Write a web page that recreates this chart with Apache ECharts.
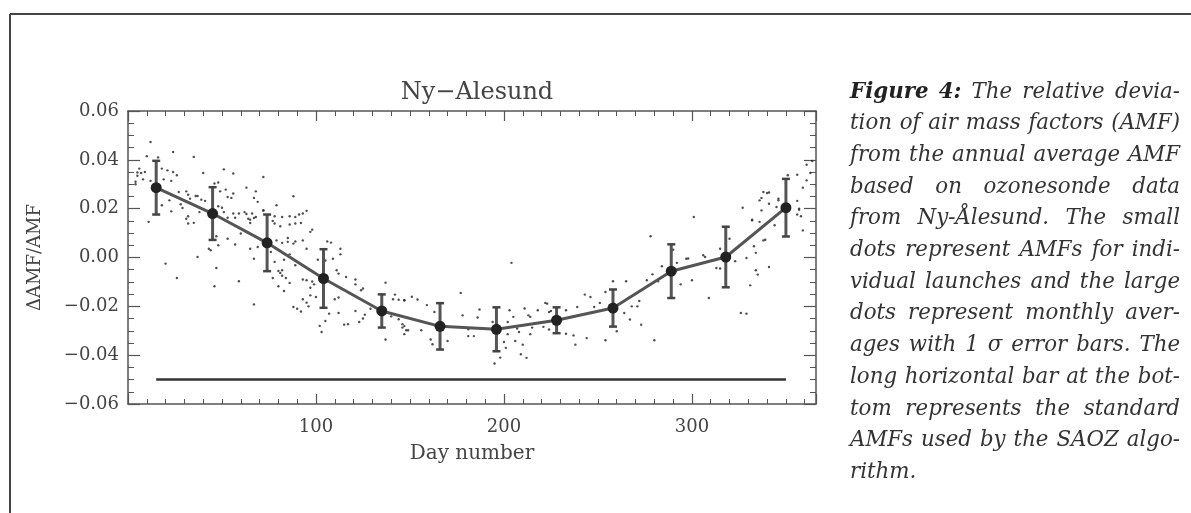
<!DOCTYPE html>
<html>
<head>
<meta charset="utf-8">
<script src="https://cdn.jsdelivr.net/npm/echarts@6/dist/echarts.min.js"></script>
<style>
html,body{margin:0;padding:0;background:#fff;}
#chart{width:1191px;height:513px;}
</style>
</head>
<body>
<div id="chart"></div>
<script>
// ---------------- data ----------------
const chartTitle = 'Ny\u2212Alesund';
const xName = 'Day number';
const yName = '\u0394AMF/AMF';
const xTickLabels = [100, 200, 300];

// monthly averages (large dots) and 1-sigma
const monthDays  = [15, 45, 74, 104, 135, 166, 196, 228, 258, 289, 318, 350];
const monthMeans = [0.0286, 0.0180, 0.0060, -0.0086, -0.0219, -0.0282, -0.0294, -0.0257, -0.0207, -0.0056, 0.0002, 0.0204];
const monthSigma = [0.0110, 0.0108, 0.0116, 0.0120, 0.0068, 0.0095, 0.0090, 0.0053, 0.0076, 0.0110, 0.0124, 0.0118];

// standard AMF bar
const standardDays = [15, 350];
const standardValue = -0.05;

// individual launches (small dots)
const launches = [
[12,0.0473],[10,0.0415],[16,0.0410],[24,0.0432],[35,0.0412],[6,0.0364],[7,0.0346],[9,0.0350],[4,0.0300],[8,0.0320],[12,0.0314],[18,0.0364],[21,0.0357],[24,0.0350],[26,0.0337],[19,0.0320],[23,0.0314],[40,0.0346],[51,0.0361],[56,0.0344],[72,0.0330],[27,0.0268],[31,0.0271],[32,0.0257],[33,0.0241],[36,0.0252],[37,0.0252],[39,0.0237],[41,0.0232],[22,0.0234],[18,0.0214],[28,0.0218],[29,0.0203],[23,0.0189],[38,0.0186],[11,0.0146],[32,0.0169],[31,0.0159],[32,0.0139],[35,0.0142],[46,0.0303],[48,0.0307],[52,0.0278],[49,0.0271],[56,0.0262],[53,0.0248],[55,0.0244],[63,0.0286],[68,0.0271],[67,0.0244],[69,0.0228],[72,0.0193],[48,0.0210],[50,0.0204],[51,0.0186],[53,0.0163],[56,0.0180],[57,0.0163],[59,0.0180],[62,0.0186],[63,0.0178],[64,0.0159],[65,0.0155],[66,0.0180],[67,0.0162],[68,0.0166],[65,0.0141],[60,0.0098],[53,0.0077],[47,0.0087],[48,0.0050],[43,0.0036],[44,0.0030],[57,0.0053],[65,0.0036],[69,0.0043],[67,-0.0005],[37,0.0002],[20,-0.0025],[26,-0.0084],[47,-0.0043],[46,-0.0118],[59,-0.0097],[67,-0.0192],[5,0.0348],[5,0.0335],[4,0.0310],
[88,0.0251],[79,0.0214],[72,0.0193],[78,0.0169],[77,0.0150],[78,0.0139],[82,0.0166],[86,0.0169],[89,0.0166],[91,0.0176],[95,0.0191],[93,0.0180],[81,0.0128],[86,0.0135],[89,0.0139],[92,0.0141],[98,0.0114],[97,0.0105],[85,0.0080],[79,0.0070],[82,0.0060],[85,0.0064],[88,0.0057],[89,0.0066],[93,0.0070],[95,0.0036],[76,0.0023],[78,-0.0018],[83,-0.0009],[86,0.0013],[89,-0.0032],[80,-0.0055],[81,-0.0063],[82,-0.0052],[77,-0.0084],[82,-0.0075],[84,-0.0084],[86,-0.0104],[80,-0.0118],[83,-0.0137],[93,-0.0090],[95,-0.0093],[98,-0.0098],[99,-0.0110],[97,-0.0124],[97,-0.0155],[100,-0.0162],[93,-0.0171],[95,-0.0185],[96,-0.0200],[88,-0.0203],[90,-0.0210],[92,-0.0221],[106,0.0066],[108,0.0061],[113,0.0036],[113,0.0013],[109,-0.0005],[105,-0.0012],[101,-0.0009],[111,-0.0052],[112,-0.0066],[116,-0.0080],[121,-0.0090],[121,-0.0110],[124,-0.0134],[125,-0.0127],[112,-0.0164],[110,-0.0171],[112,-0.0227],[107,-0.0230],[105,-0.0260],[102,-0.0280],[103,-0.0305],[115,-0.0275],[117,-0.0273],[121,-0.0219],[123,-0.0264],[126,-0.0234],[125,-0.0250],[129,-0.0210],[137,-0.0103],[142,-0.0152],[144,-0.0173],[147,-0.0175],[141,-0.0171],[140,-0.0241],[144,-0.0253],[146,-0.0273],[148,-0.0298],[137,-0.0336],
[204,-0.0022],[177,-0.0145],[147,-0.0175],[151,-0.0161],[154,-0.0172],[159,-0.0195],[163,-0.0223],[147,-0.0281],[149,-0.0298],[147,-0.0314],[156,-0.0298],[146,-0.0287],[161,-0.0336],[162,-0.0355],[170,-0.0342],[178,-0.0237],[187,-0.0213],[186,-0.0246],[181,-0.0294],[181,-0.0322],[184,-0.0322],[194,-0.0264],[203,-0.0216],[205,-0.0243],[202,-0.0264],[200,-0.0346],[202,-0.0314],[201,-0.0370],[198,-0.0410],[195,-0.0434],[211,-0.0209],[213,-0.0237],[214,-0.0243],[218,-0.0216],[222,-0.0186],[224,-0.0223],[215,-0.0287],[221,-0.0284],[207,-0.0291],[208,-0.0305],[214,-0.0314],[206,-0.0342],[210,-0.0357],[209,-0.0396],[212,-0.0411],
[278,0.0087],[258,-0.0097],[265,-0.0097],[243,-0.0152],[246,-0.0162],[254,-0.0141],[251,-0.0186],[248,-0.0203],[239,-0.0203],[233,-0.0216],[225,-0.0219],[223,-0.0189],[268,-0.0200],[271,-0.0200],[272,-0.0178],[264,-0.0227],[267,-0.0254],[273,-0.0275],[260,-0.0302],[224,-0.0295],[233,-0.0312],[237,-0.0319],[238,-0.0357],[244,-0.0330],[254,-0.0339],[280,-0.0339],[276,-0.0093],[279,-0.0069],[282,-0.0097],[284,-0.0036],[292,-0.0022],[294,-0.0110],[298,-0.0004],[290,0.0032],
[301,0.0166],[297,-0.0005],[306,0.0009],[307,0.0002],[300,-0.0093],[309,-0.0166],[313,-0.0043],[315,-0.0045],[315,0.0036],[320,0.0077],[323,-0.0015],[329,-0.0002],[333,0.0046],[334,0.0019],[331,-0.0114],[334,-0.0052],[335,-0.0070],[341,-0.0039],[326,-0.0227],[329,-0.0230],[327,0.0204],[332,0.0155],[336,0.0146],[337,0.0193],[337,0.0244],[338,0.0268],[341,0.0266],[336,0.0234],[341,0.0220],[339,0.0073],[338,0.0070],[344,0.0132],[345,0.0207],[346,0.0234],[351,0.0337],[350,0.0305],[356,0.0232],[357,0.0200],[358,0.0169],[359,0.0111],[359,0.0286],[361,0.0316],[361,0.0380],[363,0.0346],[364,0.0395],[346,0.0241],[356,0.0339],[357,0.0196],[356,0.0176],[332,0.0152],[340,0.0264]
];

// caption lines (first two words of line 1 are bold)
const captionLines = [
  'Figure 4: The relative devia-',
  'tion of air mass factors (AMF)',
  'from the annual average AMF',
  'based on ozonesonde data',
  'from Ny-\u00C5lesund. The small',
  'dots represent AMFs for indi-',
  'vidual launches and the large',
  'dots represent monthly aver-',
  'ages with 1 \u03C3 error bars. The',
  'long horizontal bar at the bot-',
  'tom represents the standard',
  'AMFs used by the SAOZ algo-',
  'rithm.'
];

// ---------------- styling ----------------
const FONT = 'DejaVu Serif';
const AX = '#555';
const TXT = '#444';

const chart = echarts.init(document.getElementById('chart'), null, {renderer: 'canvas'});

// caption with justification
const capFamily = "'DejaVu Serif', serif";
const capLeft = 850, capRight = 1180, capTop = 92, capStep = 31.7;
const mctx = document.createElement('canvas').getContext('2d');
function measureAt(t, bold, size) {
  mctx.font = (bold ? 'italic bold ' : 'italic ') + size + 'px ' + capFamily;
  return mctx.measureText(t).width;
}
// size so that the second line sets naturally at the column width
let capSize = 20;
{
  const w = measureAt(captionLines[1], false, 20);
  capSize = Math.max(17, Math.min(22, 20 * (capRight - capLeft) / w * 0.985));
}
const captionGraphics = [];
captionLines.forEach((line, li) => {
  const words = line.split(' ');
  const bolds = words.map((w, wi) => li === 0 && wi < 2);
  const widths = words.map((w, wi) => measureAt(w, bolds[wi], capSize));
  const sum = widths.reduce((a, b) => a + b, 0);
  const isLast = li === captionLines.length - 1;
  const gap = (isLast || words.length < 2) ? measureAt(' ', false, capSize) : (capRight - capLeft - sum) / (words.length - 1);
  let x = capLeft;
  const y = capTop + li * capStep;
  words.forEach((w, wi) => {
    captionGraphics.push({
      type: 'text', x: x, y: y, silent: true,
      style: {
        text: w,
        font: (bolds[wi] ? 'italic bold ' : 'italic ') + capSize.toFixed(2) + 'px ' + capFamily,
        fill: bolds[wi] ? '#222' : '#333',
        verticalAlign: 'middle', align: 'left'
      }
    });
    x += widths[wi] + gap;
  });
});

const yFmt = v => {
  const r = Math.round(v * 100) / 100;
  return (r < 0 ? '\u2212' : '') + Math.abs(r).toFixed(2);
};

const baseX = {
  type: 'value', min: 0, max: 366, gridIndex: 0,
  splitLine: {show: false}
};
const xLine = {show: true, onZero: false, lineStyle: {color: AX, width: 1.5}};
const xNoLine = {show: false, onZero: false};

const option = {
  backgroundColor: '#fff',
  animation: false,
  title: {
    text: chartTitle, left: 472, top: 76, textAlign: 'center',
    textStyle: {fontFamily: FONT, fontSize: 24, fontWeight: 'normal', color: TXT}
  },
  grid: {left: 128, right: 375, top: 111, bottom: 109, containLabel: false},
  xAxis: [
    Object.assign({}, baseX, {
      position: 'bottom', interval: 10, axisLine: xLine,
      axisTick: {show: true, inside: true, length: 5, lineStyle: {color: AX, width: 1}},
      axisLabel: {
        show: true, margin: 14, fontFamily: FONT, fontSize: 18, color: TXT,
        formatter: v => (xTickLabels.indexOf(Math.round(v)) >= 0 && Math.abs(v - Math.round(v)) < 1e-6) ? String(Math.round(v)) : ''
      },
      name: xName, nameLocation: 'middle', nameGap: 40,
      nameTextStyle: {fontFamily: FONT, fontSize: 20, color: TXT}
    }),
    Object.assign({}, baseX, {
      position: 'bottom', interval: 100, axisLine: xNoLine,
      axisTick: {show: true, inside: true, length: 10, lineStyle: {color: AX, width: 1.2}},
      axisLabel: {show: false}
    }),
    Object.assign({}, baseX, {
      position: 'top', interval: 10, axisLine: xLine,
      axisTick: {show: true, inside: true, length: 5, lineStyle: {color: AX, width: 1}},
      axisLabel: {show: false}
    }),
    Object.assign({}, baseX, {
      position: 'top', interval: 100, axisLine: xNoLine,
      axisTick: {show: true, inside: true, length: 10, lineStyle: {color: AX, width: 1.2}},
      axisLabel: {show: false}
    })
  ],
  yAxis: [
    {
      type: 'value', min: -0.06, max: 0.06, interval: 0.02, position: 'left',
      splitLine: {show: false},
      axisLine: {show: true, onZero: false, lineStyle: {color: AX, width: 1.5}},
      axisTick: {show: true, inside: true, length: 12, lineStyle: {color: AX, width: 1.2}},
      minorTick: {show: true, splitNumber: 4, length: 6, lineStyle: {color: AX, width: 1}},
      axisLabel: {show: true, margin: 9, fontFamily: FONT, fontSize: 18, color: TXT, formatter: yFmt},
      name: yName, nameLocation: 'middle', nameRotate: 90, nameGap: 84,
      nameTextStyle: {fontFamily: FONT, fontSize: 18, color: TXT}
    },
    {
      type: 'value', min: -0.06, max: 0.06, interval: 0.02, position: 'right',
      splitLine: {show: false},
      axisLine: {show: true, onZero: false, lineStyle: {color: AX, width: 1.5}},
      axisTick: {show: true, inside: true, length: 12, lineStyle: {color: AX, width: 1.2}},
      minorTick: {show: true, splitNumber: 4, length: 6, lineStyle: {color: AX, width: 1}},
      axisLabel: {show: false}
    }
  ],
  series: [
    {
      name: 'launches', type: 'scatter', xAxisIndex: 0, yAxisIndex: 0,
      data: launches, symbol: 'circle', symbolSize: 2.4,
      itemStyle: {color: '#222'}, z: 2, silent: true
    },
    {
      name: 'standard', type: 'line', xAxisIndex: 0, yAxisIndex: 0,
      data: standardDays.map(d => [d, standardValue]),
      showSymbol: false, symbol: 'none',
      lineStyle: {color: '#333', width: 2.5}, z: 3, silent: true
    },
    {
      name: 'errors', type: 'custom', xAxisIndex: 0, yAxisIndex: 0,
      data: monthDays.map((d, i) => [d, monthMeans[i] - monthSigma[i], monthMeans[i] + monthSigma[i]]),
      encode: {x: 0, y: [1, 2]},
      z: 4, silent: true,
      renderItem: (params, api) => {
        const x = api.value(0);
        const lo = api.coord([x, api.value(1)]);
        const hi = api.coord([x, api.value(2)]);
        const cw = 4;
        const st = {stroke: '#555', lineWidth: 3};
        return {
          type: 'group',
          children: [
            {type: 'line', shape: {x1: lo[0], y1: lo[1], x2: hi[0], y2: hi[1]}, style: st},
            {type: 'line', shape: {x1: lo[0] - cw, y1: lo[1], x2: lo[0] + cw, y2: lo[1]}, style: {stroke: '#444', lineWidth: 2.5}},
            {type: 'line', shape: {x1: hi[0] - cw, y1: hi[1], x2: hi[0] + cw, y2: hi[1]}, style: {stroke: '#444', lineWidth: 2.5}}
          ]
        };
      }
    },
    {
      name: 'monthly', type: 'line', xAxisIndex: 0, yAxisIndex: 0,
      data: monthDays.map((d, i) => [d, monthMeans[i]]),
      symbol: 'circle', symbolSize: 11, showSymbol: true,
      itemStyle: {color: '#222', borderWidth: 0},
      lineStyle: {color: '#555', width: 3}, z: 5, silent: true
    }
  ],
  graphic: [
    {type: 'line', shape: {x1: 10, y1: 14, x2: 1191, y2: 14}, style: {stroke: '#444', lineWidth: 2}, silent: true},
    {type: 'line', shape: {x1: 10, y1: 14, x2: 10, y2: 513}, style: {stroke: '#444', lineWidth: 2}, silent: true}
  ].concat(captionGraphics)
};
chart.setOption(option);
</script>
</body>
</html>
